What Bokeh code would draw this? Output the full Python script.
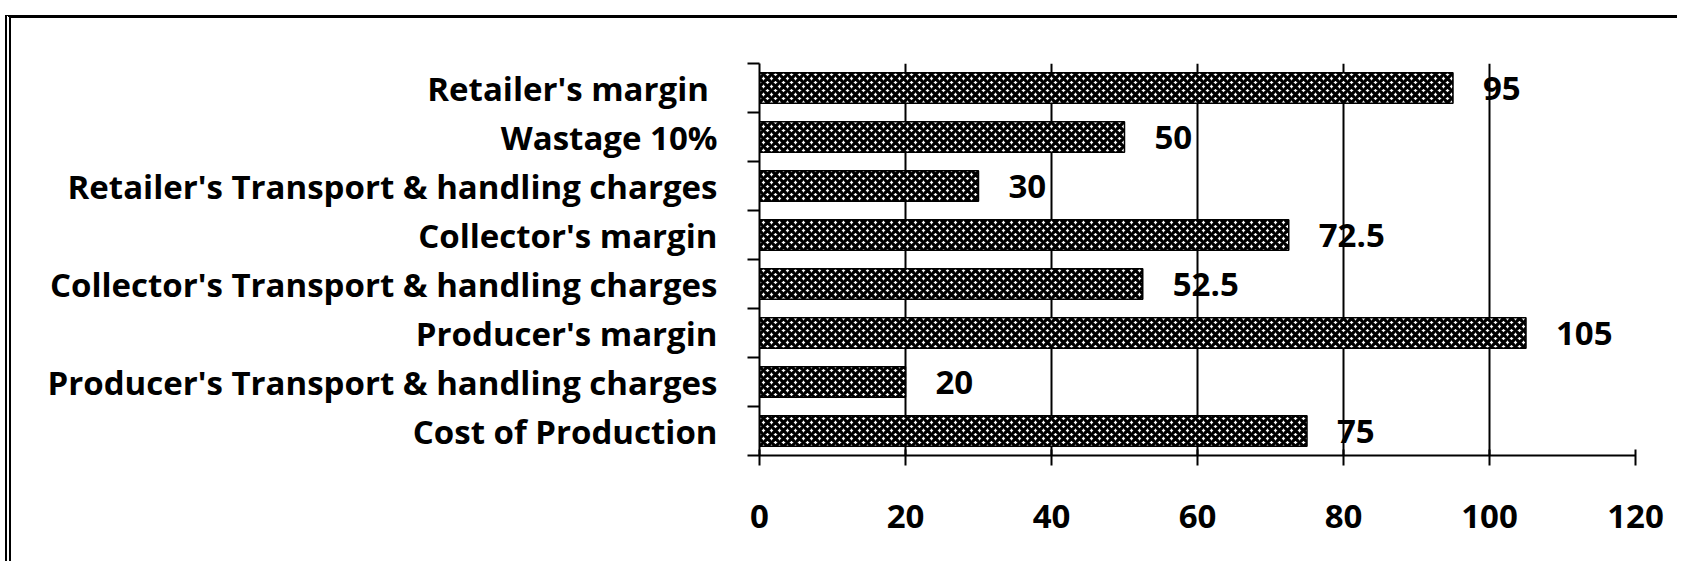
from bokeh.plotting import figure
from bokeh.models import ColumnDataSource, FixedTicker, Range1d
from bokeh.embed import file_html
from bokeh.resources import INLINE
from bokeh.core.properties import value

categories = [
    "Cost of Production",
    "Producer's Transport & handling charges",
    "Producer's margin",
    "Collector's Transport & handling charges",
    "Collector's margin",
    "Retailer's Transport & handling charges",
    "Wastage 10%",
    "Retailer's  margin",
]
values = [75, 20, 105, 52.5, 72.5, 30, 50, 95]
x_ticks = [0, 20, 40, 60, 80, 100, 120]

FONT = "Open Sans"
FS = "33px"
pos = [i + 0.5 for i in range(len(categories))]
labels = ["%g" % v for v in values]
src = ColumnDataSource(dict(y=pos, v=values, lab=labels))

p = figure(width=1672, height=546,
           x_range=Range1d(0, 120), y_range=Range1d(0, len(categories)),
           output_backend="svg", toolbar_location=None,
           min_border_left=748, min_border_right=48,
           min_border_top=45, min_border_bottom=109)
p.styles = {"border-left": "6px double black", "border-top": "3px solid black",
            "margin-left": "5px", "margin-top": "15px"}
p.outline_line_color = None
p.background_fill_color = "white"

p.hbar(y="y", right="v", left=0, height=0.62, source=src,
       fill_color="white", line_color="black", line_width=1.5,
       hatch_pattern="diagonal_cross", hatch_color="black",
       hatch_scale=8, hatch_weight=3.3)
p.text(x="v", y="y", text="lab", source=src, x_offset=30,
       text_baseline="middle", text_align="left",
       text_font=value(FONT), text_font_size=FS, text_font_style="bold",
       text_color="black")

# x axis / grid
p.xaxis.ticker = FixedTicker(ticks=x_ticks)
p.xaxis.axis_line_width = 2
p.xaxis.axis_line_color = "black"
p.xaxis.major_tick_in = 6
p.xaxis.major_tick_out = 10
p.xaxis.major_tick_line_width = 2
p.xaxis.major_tick_line_color = "black"
p.xaxis.minor_tick_line_color = None
p.xaxis.major_label_standoff = 39
p.xaxis.major_label_text_font = FONT
p.xaxis.major_label_text_font_size = FS
p.xaxis.major_label_text_font_style = "bold"
p.xaxis.major_label_text_color = "black"

p.xgrid.ticker = FixedTicker(ticks=x_ticks[1:])
p.xgrid.grid_line_color = "black"
p.xgrid.grid_line_width = 2
p.ygrid.visible = False

# y axis: labels at category centres, ticks at category boundaries
p.yaxis.ticker = FixedTicker(ticks=pos, minor_ticks=list(range(len(categories) + 1)))
p.yaxis.major_label_overrides = {k: c for k, c in zip(pos, categories)}
p.yaxis.axis_line_width = 2
p.yaxis.axis_line_color = "black"
p.yaxis.major_tick_in = 0
p.yaxis.major_tick_out = 0
p.yaxis.minor_tick_in = 0
p.yaxis.minor_tick_out = 12
p.yaxis.minor_tick_line_width = 2
p.yaxis.minor_tick_line_color = "black"
p.yaxis.major_label_standoff = 30
p.yaxis.major_label_text_font = FONT
p.yaxis.major_label_text_font_size = FS
p.yaxis.major_label_text_font_style = "bold"
p.yaxis.major_label_text_color = "black"

open("out.html", "w").write(file_html(p, INLINE))
